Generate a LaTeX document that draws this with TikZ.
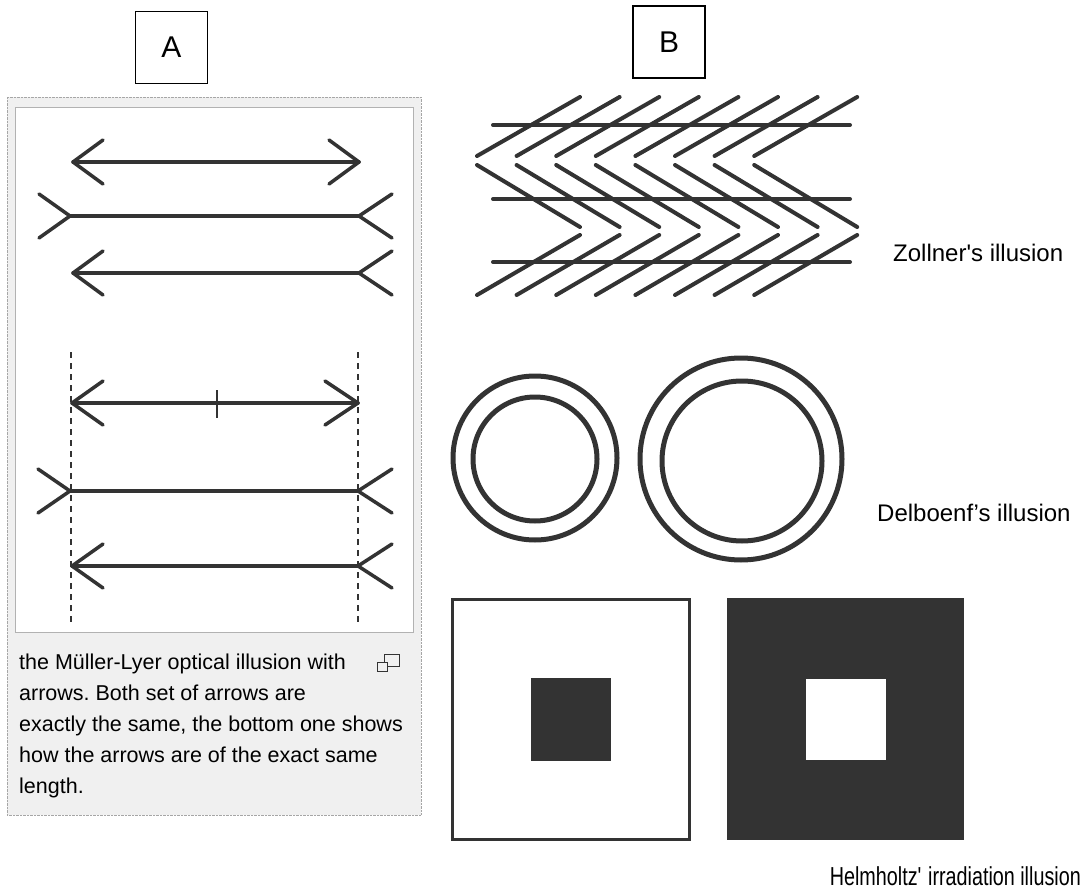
\documentclass[tikz,border=0pt]{standalone}
\usepackage{fontspec}
\setmainfont{Liberation Sans}
\newfontfamily\narrowsans[FakeStretch=0.76]{Liberation Sans}
\usetikzlibrary{positioning}
\definecolor{ink}{gray}{0.2}
\definecolor{panelbg}{gray}{0.94}
\frenchspacing

% one end of a Mueller-Lyer line: vertex at (#1,#2), barbs reach #3 sideways
\newcommand{\mlend}[3]{\draw[mlline] ({#1+(#3)},{#2-22}) -- (#1,#2) -- ({#1+(#3)},{#2+22});}

\begin{document}
\begin{tikzpicture}[x=1pt, y=-1pt,
  labelbox/.style={draw, line width=1.3pt, minimum width=72pt, minimum height=72pt, inner sep=0pt, font=\fontsize{30}{30}\selectfont},
  illname/.style={inner sep=0pt, font=\fontsize{24}{28}\selectfont},
  captext/.style={inner sep=0pt, align=left, font=\fontsize{21.5}{31}\selectfont},
  mlline/.style={draw=ink, line width=3.5pt, line cap=round, line join=round},
  guide/.style={draw=ink, line width=1.2pt, dash pattern=on 6pt off 5pt},
  zline/.style={draw=ink, line width=4pt, line cap=round},
  ring/.style={draw=ink, line width=5pt}
]
\useasboundingbox (0,0) rectangle (1087,896);

% labels on top
\node[labelbox] (labA) at (171.5,47.5) {A};
\node[labelbox] (labB) at (669,42) {B};

% panel A
\draw[black!35, densely dotted, fill=panelbg] (7,97) rectangle (421,815);
\draw[black!30, fill=white] (15,107) rectangle (413,632);

% upper set
\draw[mlline] (73,162) -- (359,162);
\mlend{73}{162}{30} \mlend{359}{162}{-30}
\draw[mlline] (70,216) -- (359,216);
\mlend{70}{216}{-31} \mlend{359}{216}{33}
\draw[mlline] (73,273) -- (359,273);
\mlend{73}{273}{30} \mlend{359}{273}{33}

% lower set with guides
\draw[guide] (71,352) -- (71,626);
\draw[guide] (358,352) -- (358,626);
\draw[mlline] (72,403) -- (358,403);
\mlend{72}{403}{31} \mlend{358}{403}{-33}
\draw[ink, line width=1.2pt] (217,390) -- (217,418);
\draw[mlline] (70,491) -- (358,491);
\mlend{70}{491}{-32} \mlend{358}{491}{34}
\draw[mlline] (72,566) -- (358,566);
\mlend{72}{566}{31} \mlend{358}{566}{34}

% caption
\node[captext, anchor=north west] (capt) at (19,654) {the Müller-Lyer optical illusion with\\arrows. Both set of arrows are\\exactly the same, the bottom one shows\\how the arrows are of the exact same\\length.};
\draw[ink, line width=1pt] (384,654) rectangle (399,666);
\draw[ink, line width=1pt, fill=panelbg] (377,662) rectangle (387,671);

% Zollner
\foreach \y in {125,199,262}
  \draw[zline] (493,\y) -- (850,\y);
\foreach \k in {0,...,7}{
  \pgfmathsetmacro{\xa}{477+39.6*\k}
  \draw[zline] (\xa,156) -- ++(103,-59);
  \draw[zline] (\xa,165) -- ++(103,62);
  \draw[zline] (\xa,295) -- ++(103,-60);
}
\node[illname, anchor=west] (zoll) at (893,253) {Zollner\textquotesingle s illusion};

% Delboeuf
\draw[ring] (535,458) circle[radius=82];
\draw[ring] (535,459) circle[radius=62];
\draw[ring] (741,459) circle[radius=101];
\draw[ring] (742,461) circle[radius=80];
\node[illname, anchor=west] (delb) at (877,513) {Delboenf's illusion};

% Helmholtz
\draw[draw=ink, line width=3pt, fill=white] (452,599) rectangle (689,839);
\fill[ink] (531,678) rectangle (611,761);
\fill[ink] (727,598) rectangle (964,840);
\fill[white] (806,679) rectangle (886,760);
\node[illname, anchor=east, font=\narrowsans\fontsize{26}{30}\selectfont] (helm) at (1081,876) {Helmholtz\textquotesingle{} irradiation illusion};
\end{tikzpicture}
\end{document}
